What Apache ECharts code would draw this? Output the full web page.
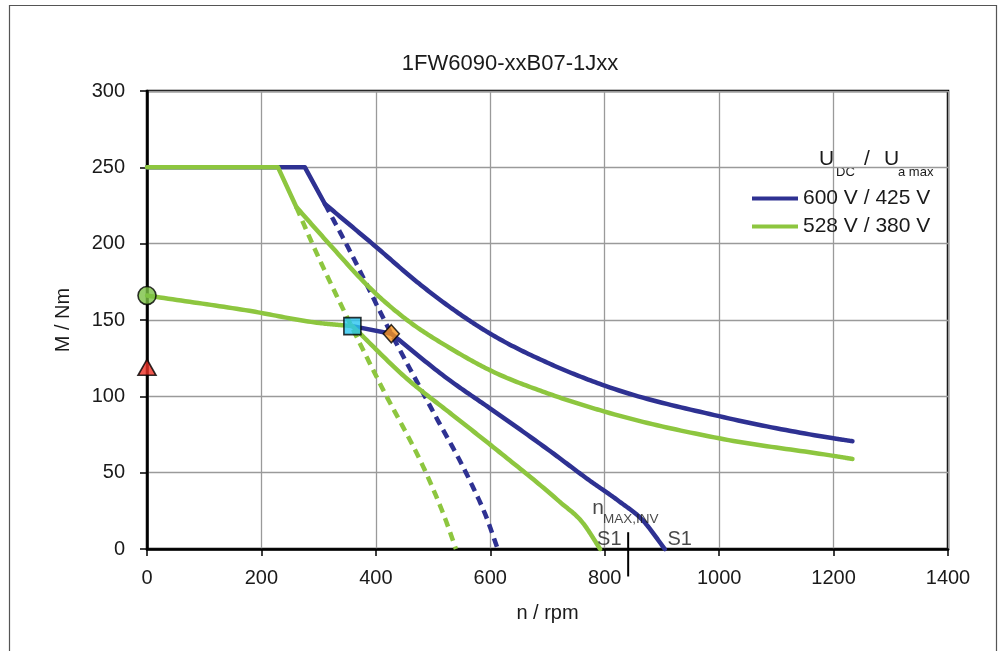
<!DOCTYPE html>
<html><head><meta charset="utf-8">
<script src="https://cdn.jsdelivr.net/npm/echarts@6/dist/echarts.min.js"></script>
<style>html,body{margin:0;padding:0;background:#fff}#c{width:1001px;height:651px}</style>
</head><body><div id="c"></div>
<script>
// ---- data ----
const chartTitle = '1FW6090-xxB07-1Jxx';
const xName = 'n / rpm';
const yName = 'M / Nm';
const seriesNames = ['600 V / 425 V', '528 V / 380 V'];

// 600 V / 425 V (blue)
const blueLimit   = [[0,250],[276,250],[311,226]];
const blueUpper   = [[311,226],[400,198],[475,174],[558,151],[600,141],[700,122],[800,107],[1000,87],[1200,72.5],[1233,70.6]];
const blueDashed  = [[311,226],[348,200],[427,141],[500,90],[564,45],[593,21],[613,0]];
const blueLink    = [[359,146],[427,141]];
const blueLower   = [[427,141],[529,110.5],[600,92],[705,64],[773,45],[826,31],[866,19],[905,0]];

// 528 V / 380 V (green)
const greenLimit  = [[0,250],[229,250],[261,224]];
const greenUpper  = [[261,224],[318,200],[395,169],[458,149],[530,131.5],[600,117],[700,102],[800,90],[1000,72.5],[1200,61],[1233,59]];
const greenDashed = [[261,224],[289,200],[352,150],[405,110],[497,42],[520,21],[540,0]];
const greenFlat   = [[0,166],[179,156],[302,148],[359,146]];
const greenLower  = [[359,146],[459,110],[530,89],[611,65],[721,31],[762,17],[792,0]];

// markers
const pointCircle   = [[0,166]];
const pointTriangle = [[0,119]];
const pointSquare   = [[359,146]];
const pointDiamond  = [[427,141]];
const nMaxInv = 841;

// ---- styles ----
const BLUE = '#2e3192', GREEN = '#8dc63f';
const FONT = 'Liberation Sans, Arial, sans-serif';
const TXT = '#1a1a1a';
const LW = 4.5;

function line(name, data, color, opts) {
  return Object.assign({
    type: 'line', name: name, data: data, symbol: 'none', smooth: false,
    lineStyle: { color: color, width: LW, cap: 'round', join: 'round' },
    itemStyle: { color: color }, z: 3
  }, opts || {});
}
// smooth curve through the data points (cubic Hermite in screen space, drawn via api.coord)
function curve(data, color, isDashed, z) {
  return {
    type: 'custom', data: [0], z: z || 3, silent: true, clip: false,
    renderItem: function (params, api) {
      const p = data.map(d => api.coord(d));
      const n = p.length, h = [], d = [], m = [];
      for (let i = 0; i < n - 1; i++) { h[i] = p[i+1][0] - p[i][0]; d[i] = (p[i+1][1] - p[i][1]) / h[i]; }
      m[0] = d[0]; m[n-1] = d[n-2];
      for (let i = 1; i < n - 1; i++) m[i] = (h[i] * d[i-1] + h[i-1] * d[i]) / (h[i-1] + h[i]);
      const out = [p[0]];
      for (let i = 0; i < n - 1; i++) {
        for (let k = 1; k <= 24; k++) {
          const t = k / 24, t2 = t * t, t3 = t2 * t;
          const y = (2*t3 - 3*t2 + 1) * p[i][1] + (t3 - 2*t2 + t) * h[i] * m[i]
                  + (-2*t3 + 3*t2) * p[i+1][1] + (t3 - t2) * h[i] * m[i+1];
          out.push([p[i][0] + t * h[i], y]);
        }
      }
      return { type: 'polyline', shape: { points: out },
        style: { stroke: color, fill: null, lineWidth: LW, lineDash: isDashed ? [9, 6] : null,
                 lineCap: isDashed ? 'butt' : 'round', lineJoin: 'round' } };
    }
  };
}
function marker(data, symbol, size, color) {
  return { type: 'scatter', data: data, symbol: symbol, symbolSize: size, clip: false, z: 10,
    itemStyle: { color: color, borderColor: '#000', borderWidth: 1.6 } };
}
function textAt(data, text, size, align) {
  return { type: 'scatter', data: data, symbolSize: 0, clip: false, z: 6, silent: true,
    label: { show: true, position: [0, 0], formatter: text, fontSize: size, fontFamily: FONT,
      color: TXT, align: align || 'center', verticalAlign: 'middle' } };
}

const chart = echarts.init(document.getElementById('c'), null, { renderer: 'canvas' });
chart.setOption({
  animation: false,
  backgroundColor: '#fff',
  title: { text: chartTitle, left: 505, top: 48, textAlign: 'center',
    textStyle: { fontFamily: FONT, fontSize: 22, fontWeight: 'normal', color: TXT } },
  grid: { left: 147, right: 53, top: 91, bottom: 102, show: true, borderColor: '#000', borderWidth: 2.5 },
  legend: {
    data: seriesNames, orient: 'vertical', left: 747, top: 183, itemWidth: 46, itemHeight: 4,
    itemGap: 7, icon: 'rect', selectedMode: false,
    textStyle: { fontFamily: FONT, fontSize: 21, color: TXT, padding: [0,0,0,0] }
  },
  xAxis: {
    type: 'value', min: 0, max: 1400, interval: 200,
    name: xName, nameLocation: 'middle', nameGap: 54,
    nameTextStyle: { fontFamily: FONT, fontSize: 20, color: TXT },
    axisLine: { show: true, lineStyle: { color: '#000', width: 2.5 } },
    axisTick: { show: true, length: 7, lineStyle: { color: '#000', width: 1.5 } },
    axisLabel: { margin: 19, fontFamily: FONT, fontSize: 20, color: TXT, formatter: v => String(v) },
    splitLine: { show: true, lineStyle: { color: '#9a9a9a', width: 1.3 } }
  },
  yAxis: {
    type: 'value', min: 0, max: 300, interval: 50,
    name: yName, nameLocation: 'middle', nameGap: 74, nameRotate: 90,
    nameTextStyle: { fontFamily: FONT, fontSize: 20, color: TXT },
    axisLine: { show: true, lineStyle: { color: '#000', width: 2.5 } },
    axisTick: { show: true, length: 7, lineStyle: { color: '#000', width: 1.5 } },
    axisLabel: { margin: 22, fontFamily: FONT, fontSize: 20, color: TXT },
    splitLine: { show: true, lineStyle: { color: '#9a9a9a', width: 1.3 } }
  },
  graphic: [
    { type: 'rect', left: 7, top: 3, shape: { width: 987, height: 647 }, style: { fill: 'none', stroke: '#555', lineWidth: 1.2 }, z: -1 },
    { type: 'text', left: 819, top: 149, style: { text: 'U', fontSize: 21, fontFamily: FONT, fill: TXT } },
    { type: 'text', left: 836, top: 166, style: { text: 'DC', fontSize: 13, fontFamily: FONT, fill: TXT } },
    { type: 'text', left: 864, top: 149, style: { text: '/', fontSize: 21, fontFamily: FONT, fill: TXT } },
    { type: 'text', left: 884, top: 149, style: { text: 'U', fontSize: 21, fontFamily: FONT, fill: TXT } },
    { type: 'text', left: 898, top: 166, style: { text: 'a max', fontSize: 13, fontFamily: FONT, fill: TXT } }
  ],
  series: [
    line(seriesNames[0], blueLimit, BLUE),
    curve(blueUpper, BLUE, false, 3),
    curve(blueDashed, BLUE, true, 3),
    line(seriesNames[0], blueLink, BLUE),
    curve(blueLower, BLUE, false, 3),
    line(seriesNames[1], greenLimit, GREEN, { z: 4 }),
    curve(greenUpper, GREEN, false, 4),
    curve(greenDashed, GREEN, true, 4),
    curve(greenFlat, GREEN, false, 4),
    curve(greenLower, GREEN, false, 4),
    { type: 'line', data: [[nMaxInv, 11], [nMaxInv, -18]], symbol: 'none', clip: false, silent: true, z: 5,
      lineStyle: { color: '#000', width: 2 } },
    textAt([[778, 27]], 'n', 21, 'left'),
    textAt([[797, 19.5]], 'MAX,INV', 13.5, 'left'),
    textAt([[808, 6.5]], 'S1', 20),
    textAt([[931, 6.5]], 'S1', 20),
    marker(pointCircle, 'circle', 18, '#7ac143'),
    marker(pointTriangle, 'triangle', [18, 16], '#ed3024'),
    marker(pointSquare, 'rect', 17, '#29c5f0'),
    marker(pointDiamond, 'diamond', [16, 18], '#f7941d')
  ]
});
</script></body></html>
